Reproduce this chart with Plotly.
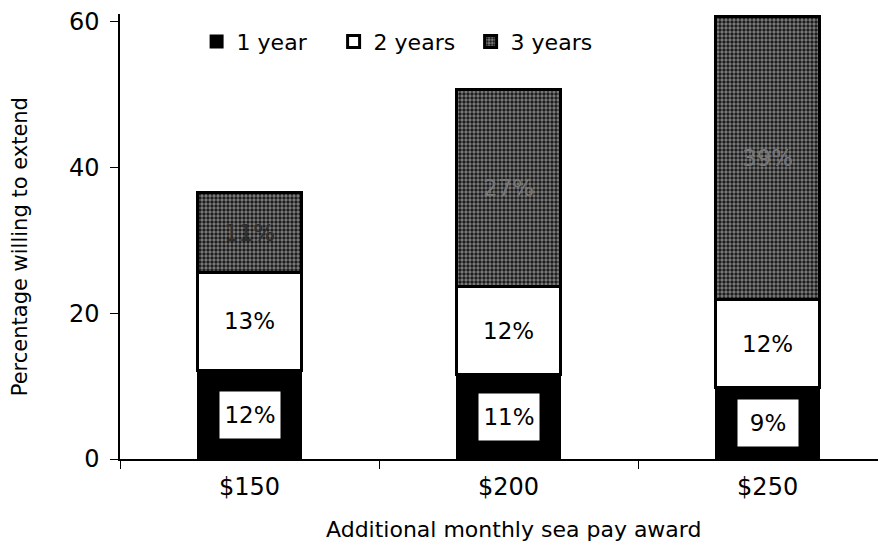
import plotly.graph_objects as go

categories = ["$150", "$200", "$250"]
one_year = [12.2, 11.6, 9.8]
two_years = [13.3, 12.0, 12.0]
three_years = [11.0, 27.0, 38.8]
one_year_labels = ["12%", "11%", "9%"]
two_years_labels = ["13%", "12%", "12%"]
three_years_labels = ["11%", "27%", "39%"]
y_ticks = [0, 20, 40, 60]

FONT = "'DejaVu Sans', sans-serif"

fig = go.Figure()
fig.add_bar(x=categories, y=one_year, name="1 year",
            marker=dict(color="black", line=dict(color="black", width=2)))
fig.add_bar(x=categories, y=two_years, name="2 years",
            marker=dict(color="white", line=dict(color="black", width=3)),
            text=two_years_labels, textposition="inside", insidetextanchor="middle",
            textfont=dict(color="black", size=23, family=FONT))
fig.add_bar(x=categories, y=three_years, name="3 years",
            marker=dict(color="#2a2a2a", line=dict(color="black", width=3),
                        pattern=dict(shape=".", fgcolor="#dcdcdc", bgcolor="#141414",
                                     size=4, solidity=0.55, fillmode="overlay")),
            text=three_years_labels, textposition="inside", insidetextanchor="middle",
            textfont=dict(color=["#2e2e2e", "#777777", "#777777"], size=23, family=FONT))

for c, v, lab in zip(categories, one_year, one_year_labels):
    fig.add_annotation(x=c, y=v / 2, text=lab, showarrow=False,
                       font=dict(size=23, color="black", family=FONT),
                       bgcolor="white", width=60, height=46, borderpad=0)

# axis titles as annotations for precise placement
fig.add_annotation(xref="paper", yref="paper", x=0.514, y=-0.19,
                   text="Additional monthly sea pay award", showarrow=False,
                   xanchor="center", yanchor="bottom",
                   font=dict(size=22, color="black", family=FONT))
fig.add_annotation(xref="paper", yref="paper", x=-0.1305, y=0.476,
                   text="Percentage willing to extend", showarrow=False, textangle=-90,
                   xanchor="center", yanchor="middle",
                   font=dict(size=21, color="black", family=FONT))

fig.update_layout(
    barmode="stack",
    bargap=0.6,
    width=878, height=538,
    margin=dict(l=112, r=0, t=6, b=87),
    plot_bgcolor="white", paper_bgcolor="white",
    font=dict(family=FONT, color="black", size=22),
    showlegend=True,
    legend=dict(orientation="h", x=0.1, y=0.985, xanchor="left", yanchor="top",
                font=dict(size=22, family=FONT), traceorder="normal",
                itemwidth=30, entrywidth=92, entrywidthmode="pixels",
                bgcolor="rgba(0,0,0,0)"),
)
fig.update_xaxes(range=[-0.5, 2.457], showline=True, linecolor="black", linewidth=1.5,
                 ticks="outside", tickson="boundaries", ticklen=8, tickcolor="black",
                 tickfont=dict(size=24, family=FONT), automargin=False, ticklabelstandoff=5,
                 showgrid=False, zeroline=False)
fig.update_yaxes(range=[0, 61], tickvals=y_ticks, showline=True, linecolor="black", linewidth=1.5,
                 ticks="outside", ticklen=8, tickcolor="black", ticklabeloverflow="allow",
                 tickfont=dict(size=24, family=FONT), automargin=False, ticklabelstandoff=6,
                 showgrid=False, zeroline=False)

fig.write_html("out.html")
